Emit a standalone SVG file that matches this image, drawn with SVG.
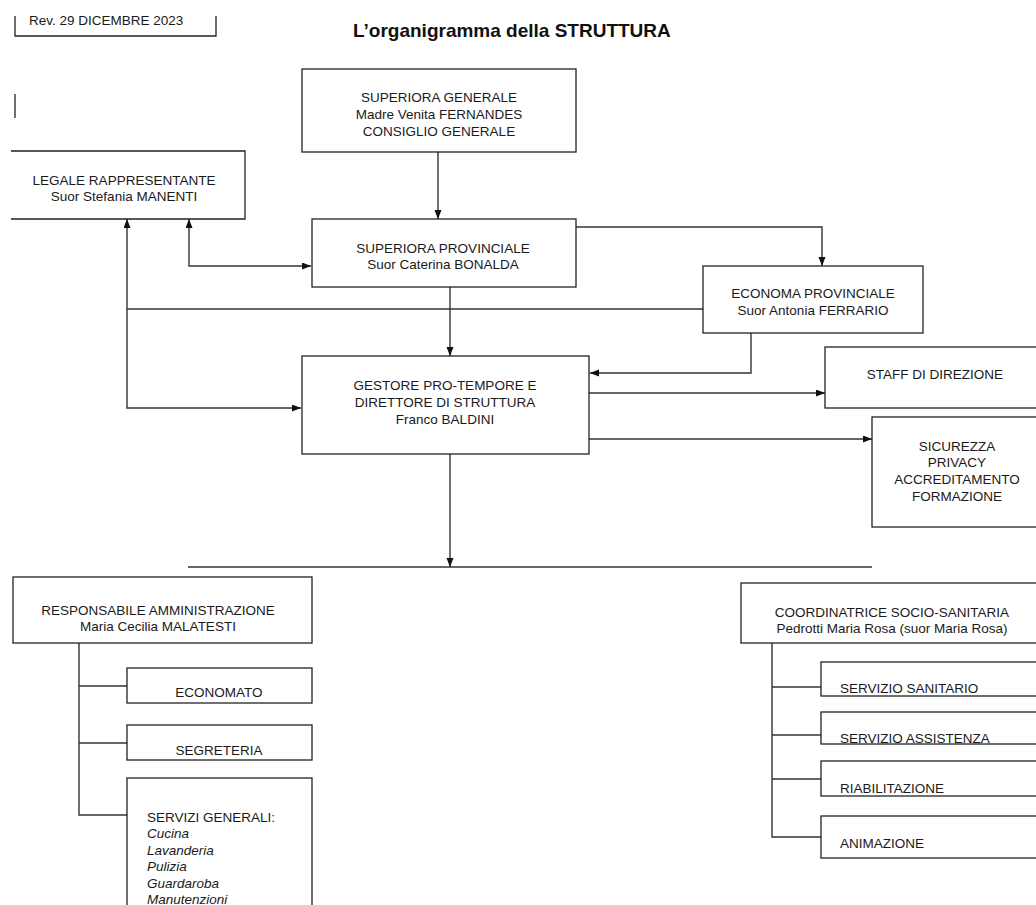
<svg xmlns="http://www.w3.org/2000/svg" width="1036" height="905" viewBox="0 0 1036 905">
<style>
.t{font-family:"Liberation Sans",Arial,sans-serif;font-size:13.5px;fill:#1a1a1a}
.c{text-anchor:middle}
.i{font-style:italic}
.box{fill:#fff;stroke:#222;stroke-width:1.3}
.ln{fill:none;stroke:#222;stroke-width:1.3}
.cn{fill:none;stroke:#333;stroke-width:1.4}
.title{font-family:"Liberation Sans",Arial,sans-serif;font-size:19px;font-weight:bold;fill:#111}
</style>
<defs>
<marker id="ar" markerUnits="userSpaceOnUse" markerWidth="10" markerHeight="8" refX="9" refY="3.5" orient="auto-start-reverse">
<path d="M0,0 L9,3.5 L0,7 z" fill="#111"/>
</marker>
</defs>
<rect width="1036" height="905" fill="#fff"/>

<g id="rev">
<path class="ln" d="M15,16 V36 H216 V16"/>
<text class="t" x="29" y="25">Rev. 29 DICEMBRE 2023</text>
</g>
<line class="ln" x1="15" y1="94" x2="15" y2="118"/>
<text class="title" x="353" y="37">L’organigramma della STRUTTURA</text>

<g id="connectors">
<path class="cn" d="M438,152 V219" marker-end="url(#ar)"/>
<path class="cn" d="M189,219 V266 H311" marker-start="url(#ar)" marker-end="url(#ar)"/>
<path class="cn" d="M127,219 V408 H301" marker-start="url(#ar)" marker-end="url(#ar)"/>
<path class="cn" d="M127,309 H703"/>
<path class="cn" d="M450,287 V356" marker-end="url(#ar)"/>
<path class="cn" d="M576,227 H822 V266" marker-end="url(#ar)"/>
<path class="cn" d="M751,333 V373 H590" marker-end="url(#ar)"/>
<path class="cn" d="M589,393 H825" marker-end="url(#ar)"/>
<path class="cn" d="M589,439 H872" marker-end="url(#ar)"/>
<path class="cn" d="M450,454 V567" marker-end="url(#ar)"/>
<path class="cn" d="M188,567 H872"/>
<path class="cn" d="M79,643 V815 H127 M79,686 H127 M79,743 H127"/>
<path class="cn" d="M772,643 V837 H821 M772,687 H821 M772,735 H821 M772,779 H821"/>
</g>

<g id="superiora-generale">
<rect class="box" x="302" y="69" width="274" height="83"/>
<text class="t c" x="439" y="102">SUPERIORA GENERALE</text>
<text class="t c" x="439" y="119">Madre Venita FERNANDES</text>
<text class="t c" x="439" y="136">CONSIGLIO GENERALE</text>
</g>

<g id="legale">
<path class="box" d="M11,151 H245 V219 H11"/>
<text class="t c" x="124" y="185">LEGALE RAPPRESENTANTE</text>
<text class="t c" x="124" y="201">Suor Stefania MANENTI</text>
</g>

<g id="superiora-provinciale">
<rect class="box" x="312" y="219" width="264" height="68"/>
<text class="t c" x="443" y="253">SUPERIORA PROVINCIALE</text>
<text class="t c" x="443" y="269">Suor Caterina BONALDA</text>
</g>

<g id="economa">
<rect class="box" x="703" y="266" width="220" height="67"/>
<text class="t c" x="813" y="298">ECONOMA PROVINCIALE</text>
<text class="t c" x="813" y="315">Suor Antonia FERRARIO</text>
</g>

<g id="gestore">
<rect class="box" x="302" y="356" width="287" height="98"/>
<text class="t c" x="445" y="390">GESTORE PRO-TEMPORE E</text>
<text class="t c" x="445" y="407">DIRETTORE DI STRUTTURA</text>
<text class="t c" x="445" y="424">Franco BALDINI</text>
</g>

<g id="staff">
<rect class="box" x="825" y="347" width="220" height="61"/>
<text class="t c" x="935" y="379">STAFF DI DIREZIONE</text>
</g>

<g id="sicurezza">
<rect class="box" x="872" y="417" width="175" height="110"/>
<text class="t c" x="957" y="451">SICUREZZA</text>
<text class="t c" x="957" y="467">PRIVACY</text>
<text class="t c" x="957" y="484">ACCREDITAMENTO</text>
<text class="t c" x="957" y="501">FORMAZIONE</text>
</g>

<g id="responsabile">
<rect class="box" x="13" y="577" width="299" height="66"/>
<text class="t c" x="158" y="615">RESPONSABILE AMMINISTRAZIONE</text>
<text class="t c" x="158" y="631">Maria Cecilia MALATESTI</text>
</g>

<g id="economato">
<rect class="box" x="127" y="668" width="185" height="35"/>
<text class="t c" x="219" y="697">ECONOMATO</text>
</g>

<g id="segreteria">
<rect class="box" x="127" y="725" width="185" height="35"/>
<text class="t c" x="219" y="755">SEGRETERIA</text>
</g>

<g id="servizi-generali">
<rect class="box" x="127" y="778" width="185" height="140"/>
<text class="t" x="147" y="822">SERVIZI GENERALI:</text>
<text class="t i" x="147" y="838">Cucina</text>
<text class="t i" x="147" y="855">Lavanderia</text>
<text class="t i" x="147" y="871">Pulizia</text>
<text class="t i" x="147" y="888">Guardaroba</text>
<text class="t i" x="147" y="904">Manutenzioni</text>
</g>

<g id="coordinatrice">
<rect class="box" x="741" y="583" width="305" height="60"/>
<text class="t c" x="892" y="617">COORDINATRICE SOCIO-SANITARIA</text>
<text class="t c" x="892" y="633">Pedrotti Maria Rosa (suor Maria Rosa)</text>
</g>

<g id="sanitario">
<rect class="box" x="821" y="662" width="225" height="34"/>
<text class="t" x="840" y="693">SERVIZIO SANITARIO</text>
</g>

<g id="assistenza">
<rect class="box" x="821" y="712" width="225" height="32"/>
<text class="t" x="840" y="743">SERVIZIO ASSISTENZA</text>
</g>

<g id="riabilitazione">
<rect class="box" x="821" y="761" width="225" height="35"/>
<text class="t" x="840" y="793">RIABILITAZIONE</text>
</g>

<g id="animazione">
<rect class="box" x="821" y="816" width="225" height="42"/>
<text class="t" x="840" y="848">ANIMAZIONE</text>
</g>
</svg>
